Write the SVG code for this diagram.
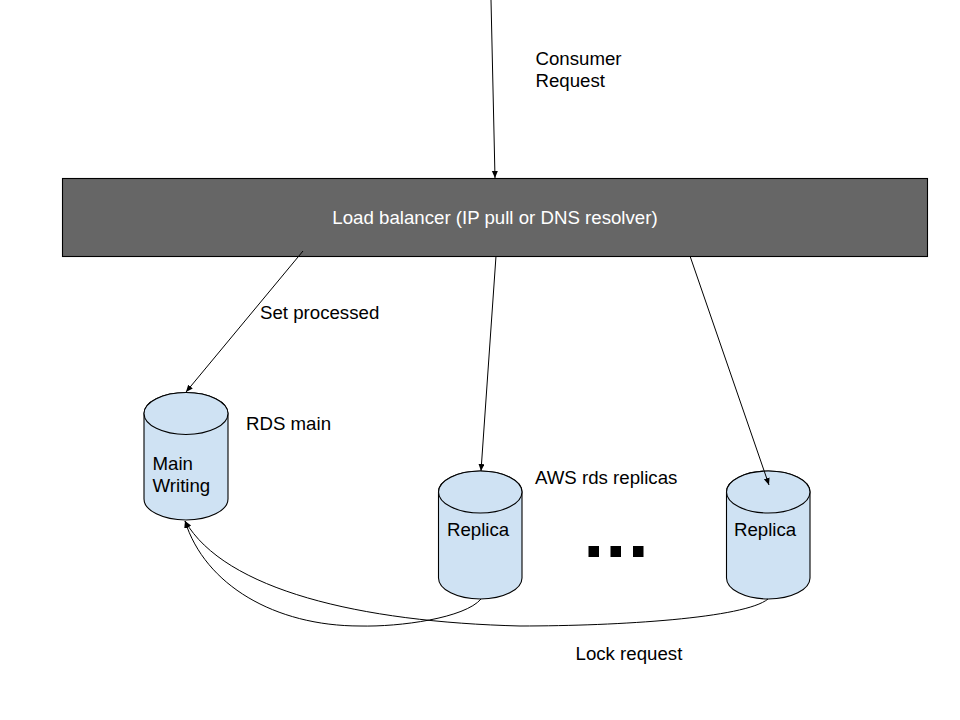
<svg xmlns="http://www.w3.org/2000/svg" width="960" height="720" viewBox="0 0 960 720">
<style>
text{font-family:"Liberation Sans",Arial,sans-serif;font-size:18.67px;fill:#000}
.cyl{fill:#cfe2f3;stroke:#000;stroke-width:1.1}
.c{fill:none;stroke:#000;stroke-width:1;marker-end:url(#a)}
</style>
<defs>
<marker id="a" markerUnits="userSpaceOnUse" markerWidth="8" markerHeight="8" refX="7" refY="3" orient="auto"><path d="M0 0L7 3L0 6Z" fill="#000"/></marker>
</defs>
<rect width="960" height="720" fill="#fff"/>
<g id="load-balancer">
<rect x="62.500" y="178.500" width="865" height="78" fill="#666" stroke="#000" stroke-width="1.100"/>
<text x="495" y="224" text-anchor="middle" style="fill:#fff">Load balancer (IP pull or DNS resolver)</text>
</g>
<g id="main-db">
<path class="cyl" d="M144 413.500V499A42 21 0 0 0 228 499V413.500A42 21 0 0 0 144 413.500Z"/>
<ellipse class="cyl" cx="186" cy="413.500" rx="42" ry="21"/>
<text x="152.500" y="470">Main</text>
<text x="152.500" y="492">Writing</text>
</g>
<g id="replica-1">
<path class="cyl" d="M438.500 492V578A41.750 21 0 0 0 522 578V492A41.750 21 0 0 0 438.500 492Z"/>
<ellipse class="cyl" cx="480.250" cy="492" rx="41.750" ry="21"/>
<text x="447" y="536">Replica</text>
</g>
<g id="replica-2">
<path class="cyl" d="M726.500 492V578A41.750 21 0 0 0 810 578V492A41.750 21 0 0 0 726.500 492Z"/>
<ellipse class="cyl" cx="768.250" cy="492" rx="41.750" ry="21"/>
<text x="734" y="536">Replica</text>
</g>
<g id="connectors">
<path class="c" d="M491 0L495 178"/>
<path class="c" d="M303 251L186 392"/>
<path class="c" d="M496 256L481 471"/>
<path class="c" d="M690 256L769 485"/>
<path class="c" d="M481 599C465 618 400 627 360 626C275 626 205 585 185 521"/>
<path class="c" d="M768 599C745 618 620 626 520 626C360 622 225 590 185 521"/>
</g>
<g id="dots">
<rect x="588.500" y="546" width="10.500" height="11"/>
<rect x="610.500" y="546" width="10.500" height="11"/>
<rect x="633" y="546" width="10.500" height="11"/>
</g>
<g id="labels">
<text x="535.500" y="65">Consumer</text>
<text x="535.500" y="87">Request</text>
<text x="260" y="319">Set processed</text>
<text x="246" y="430">RDS main</text>
<text x="535" y="484">AWS rds replicas</text>
<text x="575.500" y="660">Lock request</text>
</g>
</svg>
